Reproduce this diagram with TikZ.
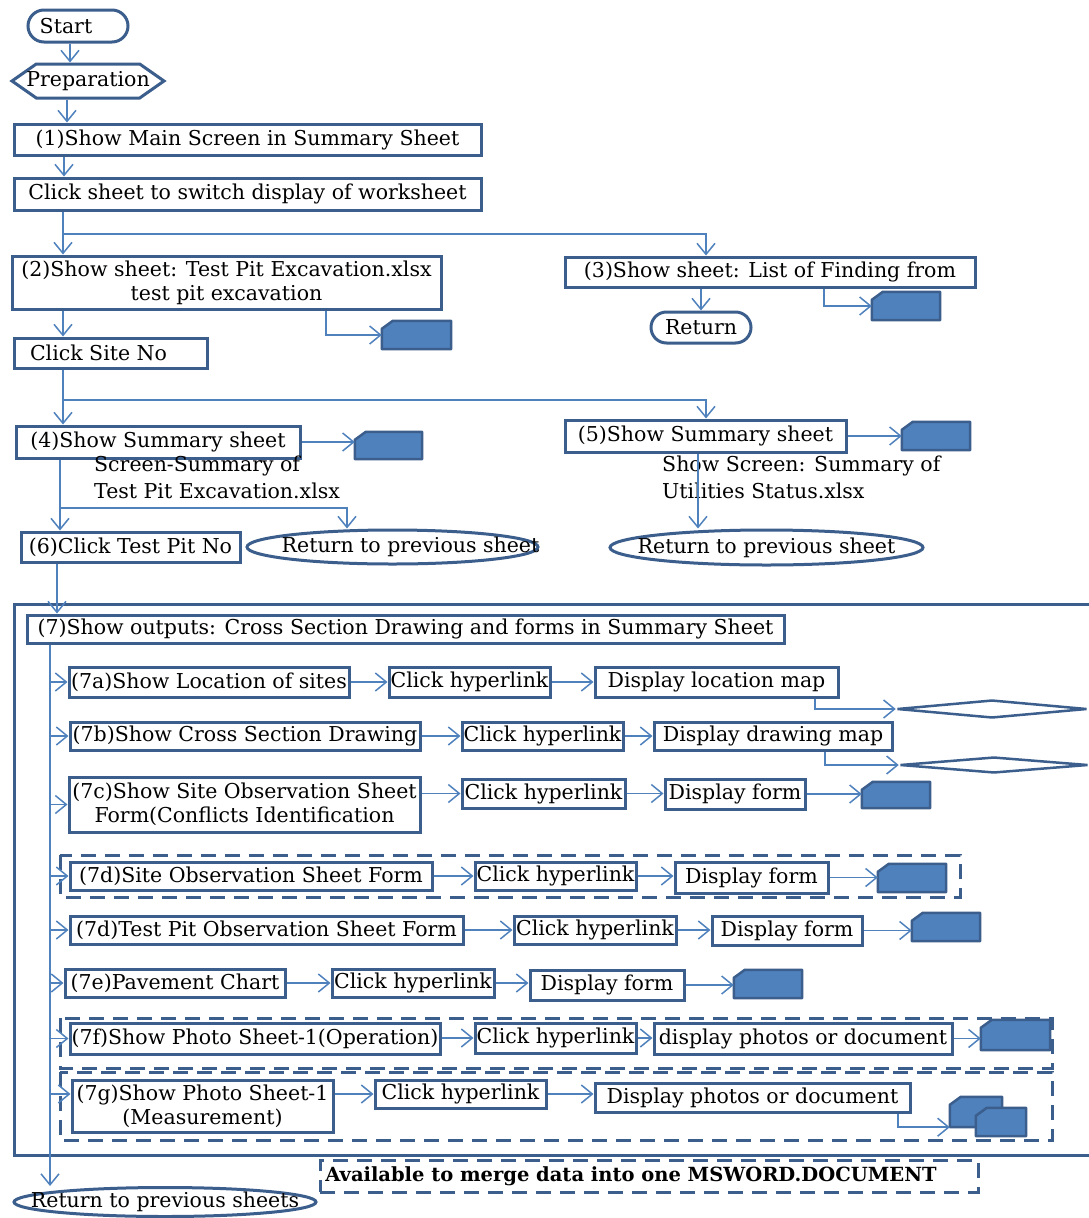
\documentclass[tikz,border=0pt]{standalone}
\usepackage{fontspec}
\setmainfont{DejaVu Serif}
\usetikzlibrary{shapes.geometric, shapes.misc, shapes.symbols, arrows.meta}
\definecolor{boxline}{HTML}{3B5E8C}
\definecolor{flowline}{HTML}{4F81BD}
\definecolor{cardfill}{HTML}{4F81BD}
\newcommand{\ztext}[1]{\makebox[0pt]{#1}}
% blue card with the top left corner cut off
\newcommand{\cardshape}[1]{%
  \filldraw[draw=boxline, fill=cardfill, line width=2.5pt, line join=round]
    (#1.south west) -- ([yshift=-8pt]#1.north west) -- ([xshift=11pt]#1.north west)
    -- (#1.north east) -- (#1.south east) -- cycle;}

\begin{document}
\begin{tikzpicture}[x=1pt, y=-1pt,
    every node/.style={font=\fontsize{20.5}{24}\selectfont},
    wh/.style 2 args={minimum width=#1pt, minimum height=#2pt},
    box/.style={draw=boxline, line width=3pt, fill=white, inner sep=1pt, align=center},
    pill/.style={box, rounded rectangle},
    oval/.style={box, ellipse, inner sep=0pt},
    hexa/.style={box, signal, signal to=east and west, signal pointer angle=70, inner sep=0pt},
    card/.style={rectangle, inner sep=0pt},
    flat/.style={diamond, aspect=10, draw=boxline, fill=white, line width=2.5pt, inner sep=0pt},
    note/.style={align=left, anchor=west, inner sep=0pt},
    grp/.style={draw=boxline, line width=3pt, dash pattern=on 15pt off 9pt},
    arr/.style={-{Straight Barb[length=11pt, width=18pt]}, line width=1.5pt, color=flowline}
]
    \useasboundingbox (0,0) rectangle (1088,1218);

    % frame and groups
    \draw[boxline, line width=3pt] (14,604) rectangle (1110,1155);
    \draw[grp] (60,855) rectangle (960,897);
    \draw[grp] (60,1018) rectangle (1052,1068);
    \draw[grp] (60,1072) rectangle (1052,1140);

    % upper part
    \node[pill, wh={102}{32}] (start) at (78,26) {\ztext{Start\hspace{24pt}}};
    \node[hexa, wh={152}{34}] (prep) at (88,81) {\ztext{Preparation}};
    \node[box, wh={467}{31}] (main) at (247.5,139.5) {(1)Show Main Screen in Summary Sheet};
    \node[box, wh={467}{32}] (click) at (247.5,194) {Click sheet to switch display of worksheet};
    \node[box, wh={429}{53}] (tpe) at (226.5,282.5) {(2)Show sheet: Test Pit Excavation.xlsx\\test pit excavation};
    \node[box, wh={410}{30}] (lof) at (770,272) {(3)Show sheet: List of Finding from};
    \node[card, wh={69}{28}] (cardtpe) at (416.5,335) {};
    \node[card, wh={68}{28}] (cardlof) at (906,306) {};
    \node[pill, wh={102}{31}] (ret) at (701,327.5) {Return};
    \node[box, wh={193}{30}] (site) at (110.5,353) {\ztext{Click Site No\hspace{24pt}}};

    \node[box, wh={284}{32}] (four) at (158,442) {(4)Show Summary sheet};
    \node[note] (fournote) at (94,477) {Screen-Summary of\\[3pt]Test Pit Excavation.xlsx};
    \node[card, wh={67}{27}] (cardfour) at (388.5,445.5) {};
    \node[box, wh={281}{32}] (five) at (705.5,436) {(5)Show Summary sheet};
    \node[note] (fivenote) at (662,477) {Show Screen: Summary of\\[3pt]Utilities Status.xlsx};
    \node[card, wh={68}{28}] (cardfive) at (936,436) {};
    \node[box, wh={219}{30}] (six) at (130.5,547) {(6)Click Test Pit No};
    \node[oval, wh={291}{34}] (backa) at (392.5,547) {\ztext{\hspace{36pt}Return to previous sheet}};
    \node[oval, wh={313}{35}] (backb) at (766.5,547.5) {\ztext{Return to previous sheet}};

    % outputs
    \node[box, wh={757}{28}] (seven) at (405.5,629) {(7)Show outputs: Cross Section Drawing and forms in Summary Sheet};

    \node[box, wh={280}{30}] (a1) at (209,682) {(7a)Show Location of sites};
    \node[box, wh={161}{30}] (a2) at (469.5,682) {Click hyperlink};
    \node[box, wh={243}{30}] (a3) at (716.5,682) {Display location map};
    \node[flat, wh={190}{18}] (dia1) at (992,709) {};

    \node[box, wh={350}{28}] (b1) at (245,736) {(7b)Show Cross Section Drawing};
    \node[box, wh={161}{28}] (b2) at (542.5,736) {Click hyperlink};
    \node[box, wh={238}{28}] (b3) at (773,736) {Display drawing map};
    \node[flat, wh={188}{16}] (dia2) at (994,765) {};

    \node[box, wh={351}{55}] (c1) at (244.5,804.5) {(7c)Show Site Observation Sheet\\Form(Conflicts Identification};
    \node[box, wh={163}{29}] (c2) at (543.5,793.5) {Click hyperlink};
    \node[box, wh={140}{30}] (c3) at (735,794) {Display form};
    \node[card, wh={68}{26}] (cardc) at (896,795) {};

    \node[box, wh={362}{28}] (d1) at (251,876) {(7d)Site Observation Sheet Form};
    \node[box, wh={161}{28}] (d2) at (555.5,876) {Click hyperlink};
    \node[box, wh={153}{31}] (d3) at (751.5,877.5) {Display form};
    \node[card, wh={68}{28}] (cardd) at (912,878) {};

    \node[box, wh={393}{28}] (t1) at (266.5,930) {(7d)Test Pit Observation Sheet Form};
    \node[box, wh={162}{28}] (t2) at (595,930) {Click hyperlink};
    \node[box, wh={150}{29}] (t3) at (787,930.5) {Display form};
    \node[card, wh={68}{28}] (cardt) at (946,927) {};

    \node[box, wh={220}{28}] (e1) at (175,983) {(7e)Pavement Chart};
    \node[box, wh={162}{28}] (e2) at (413,983) {Click hyperlink};
    \node[box, wh={154}{30}] (e3) at (607,985) {Display form};
    \node[card, wh={68}{28}] (carde) at (768,984) {};

    \node[box, wh={370}{31}] (f1) at (255,1038.5) {(7f)Show Photo Sheet-1(Operation)};
    \node[box, wh={161}{30}] (f2) at (555.5,1038) {Click hyperlink};
    \node[box, wh={298}{31}] (f3) at (803,1038.5) {display photos or document};
    \node[card, wh={69}{30}] (cardf) at (1015.5,1035) {};

    \node[box, wh={261}{52}] (g1) at (202.5,1106) {(7g)Show Photo Sheet-1\\(Measurement)};
    \node[box, wh={171}{28}] (g2) at (460.5,1094) {Click hyperlink};
    \node[box, wh={315}{29}] (g3) at (752.5,1097.5) {Display photos or document};
    \node[card, wh={52}{30}] (cardga) at (976,1112) {};
    \node[card, wh={50}{28}] (cardgb) at (1001,1122) {};

    \foreach \c in {cardtpe,cardlof,cardfour,cardfive,cardc,cardd,cardt,carde,cardf,cardga,cardgb}
        \cardshape{\c};

    % bottom
    \node[grp, wh={658}{32}, inner sep=0pt, font=\fontsize{19.5}{22}\selectfont\bfseries] (merge) at (649,1176) {\ztext{Available to merge data into one MSWORD.DOCUMENT\hspace{36pt}}};
    \node[oval, wh={302}{29}] (backc) at (165,1202) {\ztext{Return to previous sheets}};

    \coordinate (forka) at (63,234);
    \coordinate (forkb) at (63,400);
    \coordinate (forkc) at (60,508);

    % connectors
    \draw[arr] (start.south -| 70,0) -- (prep.north -| 70,0);
    \draw[arr] (prep.south -| 67,0) -- (main.north -| 67,0);
    \draw[arr] (main.south -| 64,0) -- (click.north -| 64,0);
    \draw[arr] (click.south -| 63,0) -- (tpe.north -| 63,0);
    \draw[arr] (forka) -| (lof.north -| 706,0);
    \draw[arr] (tpe.south -| 63,0) -- (site.north -| 63,0);
    \draw[arr] (tpe.south -| 326,0) |- (cardtpe.west);
    \draw[arr] (lof.south -| ret.north) -- (ret.north);
    \draw[arr] (lof.south -| 824,0) |- (cardlof.west);
    \draw[arr] (site.south -| 63,0) -- (four.north -| 63,0);
    \draw[arr] (forkb) -| (five.north -| 706,0);
    \draw[arr] (four.east) -- (four.east -| cardfour.west);
    \draw[arr] (five.east) -- (five.east -| cardfive.west);
    \draw[arr] (four.south -| 60,0) -- (six.north -| 60,0);
    \draw[arr] (forkc) -| (backa.north -| 347,0);
    \draw[arr] (five.south -| 698,0) -- (backb.north -| 698,0);
    \draw[arr] (six.south -| 57,0) -- (seven.north -| 57,0);
    \draw[arr] (seven.south -| 50,0) -- (backc.north -| 50,0);
    \foreach \r in {a,b,c,d,t,e,f}
        \draw[arr] (\r1.west -| 50,0) -- (\r1.west);
    \draw[arr] (g2.west -| 50,0) -- (g2.west -| g1.west);
    \foreach \r in {a,b,c,d,t,e,f,g} {
        \draw[arr] (\r1.east |- \r2.west) -- (\r2.west);
        \draw[arr] (\r2.east) -- (\r2.east -| \r3.west);
    }
    \draw[arr] (a3.south -| 815,0) |- (dia1.west);
    \draw[arr] (b3.south -| 825,0) |- (dia2.west);
    \foreach \r in {c,d,t,e,f}
        \draw[arr] (\r3.east) -- (\r3.east -| card\r.west);
    \draw[arr] (g3.south -| 898,0) |- (cardga.south west);
\end{tikzpicture}
\end{document}
